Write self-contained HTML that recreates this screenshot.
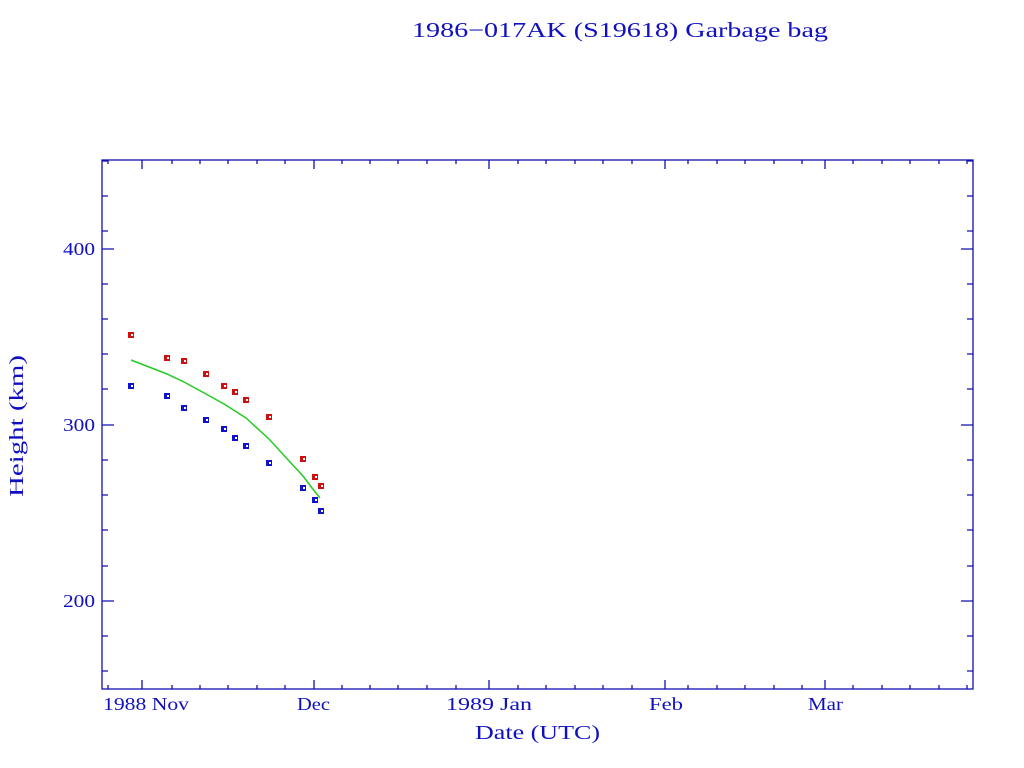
<!DOCTYPE html>
<html><head><style>html,body{margin:0;padding:0;background:#fff}svg{display:block}</style></head>
<body>
<svg width="1024" height="768" xmlns="http://www.w3.org/2000/svg" font-family="Liberation Serif, serif" fill="#1010c0">
<text x="412" y="37" font-size="21" textLength="416" lengthAdjust="spacingAndGlyphs">1986−017AK (S19618) Garbage bag</text>
<g stroke="#1010b0" stroke-width="1.3" fill="none">
<rect x="102" y="160" width="871" height="529"/>
<path d="
M102 161h6M102 196h6M102 231h6M102 249h12M102 284h6M102 319h6M102 354h6M102 389h6M102 425h12M102 460h6M102 495h6M102 530h6M102 566h6M102 601h12M102 636h6M102 671h6
M973 161h-6M973 196h-6M973 231h-6M973 249h-12M973 284h-6M973 319h-6M973 354h-6M973 389h-6M973 425h-12M973 460h-6M973 495h-6M973 530h-6M973 566h-6M973 601h-12M973 636h-6M973 671h-6"/>
<path d="
M108 689v-4M142 689v-9M172 689v-4M200 689v-4M228 689v-4M257 689v-4M285 689v-4M314 689v-9M342 689v-4M370 689v-4M398 689v-4M427 689v-4M456 689v-4M489 689v-9M518 689v-4M546 689v-4M575 689v-4M603 689v-4M632 689v-4M665 689v-9M688 689v-4M717 689v-4M745 689v-4M774 689v-4M802 689v-4M825 689v-9M853 689v-4M882 689v-4M910 689v-4M939 689v-4M967 689v-4
M108 160v4M142 160v9M172 160v4M200 160v4M228 160v4M257 160v4M285 160v4M314 160v9M342 160v4M370 160v4M398 160v4M427 160v4M456 160v4M489 160v9M518 160v4M546 160v4M575 160v4M603 160v4M632 160v4M665 160v9M688 160v4M717 160v4M745 160v4M774 160v4M802 160v4M825 160v9M853 160v4M882 160v4M910 160v4M939 160v4M967 160v4"/>
</g>
<g font-size="18">
<text x="63" y="255" textLength="32" lengthAdjust="spacingAndGlyphs">400</text>
<text x="63" y="431" textLength="32" lengthAdjust="spacingAndGlyphs">300</text>
<text x="63" y="607" textLength="32" lengthAdjust="spacingAndGlyphs">200</text>
<text x="103" y="710" textLength="86" lengthAdjust="spacingAndGlyphs">1988 Nov</text>
<text x="297" y="710" textLength="33" lengthAdjust="spacingAndGlyphs">Dec</text>
<text x="446" y="710" textLength="86" lengthAdjust="spacingAndGlyphs">1989 Jan</text>
<text x="649" y="710" textLength="34" lengthAdjust="spacingAndGlyphs">Feb</text>
<text x="808" y="710" textLength="35" lengthAdjust="spacingAndGlyphs">Mar</text>
<text x="475" y="739" font-size="20" textLength="125" lengthAdjust="spacingAndGlyphs">Date (UTC)</text>
<text transform="translate(23,497) rotate(-90)" font-size="20" textLength="142" lengthAdjust="spacingAndGlyphs">Height (km)</text>
</g>
<polyline fill="none" stroke="#22cc22" stroke-width="1.5" points="131,360 167,374 184,382 206,394 224,404 235,411 246,418 269,439 290,462 303,476 312,488 320,498"/>
<g fill="#d01010">
<rect x="128" y="332" width="6" height="6"/><rect x="164" y="355" width="6" height="6"/><rect x="181" y="358" width="6" height="6"/><rect x="203" y="371" width="6" height="6"/><rect x="221" y="383" width="6" height="6"/><rect x="232" y="389" width="6" height="6"/><rect x="243" y="397" width="6" height="6"/><rect x="266" y="414" width="6" height="6"/><rect x="300" y="456" width="6" height="6"/><rect x="312" y="474" width="6" height="6"/><rect x="318" y="483" width="6" height="6"/>
</g>
<g fill="#1010d0">
<rect x="128" y="383" width="6" height="6"/><rect x="164" y="393" width="6" height="6"/><rect x="181" y="405" width="6" height="6"/><rect x="203" y="417" width="6" height="6"/><rect x="221" y="426" width="6" height="6"/><rect x="232" y="435" width="6" height="6"/><rect x="243" y="443" width="6" height="6"/><rect x="266" y="460" width="6" height="6"/><rect x="300" y="485" width="6" height="6"/><rect x="312" y="497" width="6" height="6"/><rect x="318" y="508" width="6" height="6"/>
</g>
<g fill="#fff">
<rect x="131" y="334" width="2" height="2"/><rect x="167" y="357" width="2" height="2"/><rect x="184" y="360" width="2" height="2"/><rect x="206" y="373" width="2" height="2"/><rect x="224" y="385" width="2" height="2"/><rect x="235" y="391" width="2" height="2"/><rect x="246" y="399" width="2" height="2"/><rect x="269" y="416" width="2" height="2"/><rect x="303" y="458" width="2" height="2"/><rect x="315" y="476" width="2" height="2"/><rect x="321" y="485" width="2" height="2"/>
<rect x="131" y="385" width="2" height="2"/><rect x="167" y="395" width="2" height="2"/><rect x="184" y="407" width="2" height="2"/><rect x="206" y="419" width="2" height="2"/><rect x="224" y="428" width="2" height="2"/><rect x="235" y="437" width="2" height="2"/><rect x="246" y="445" width="2" height="2"/><rect x="269" y="462" width="2" height="2"/><rect x="303" y="487" width="2" height="2"/><rect x="315" y="499" width="2" height="2"/><rect x="321" y="510" width="2" height="2"/>
</g>
</svg>
</body></html>
